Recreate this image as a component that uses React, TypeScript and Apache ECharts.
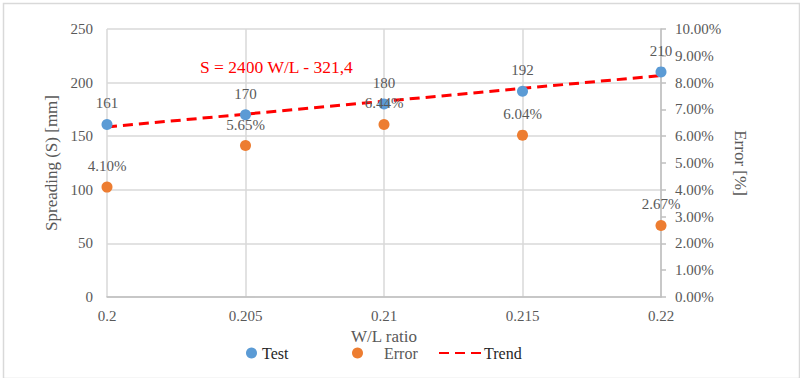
import React, { useEffect, useRef } from "react";
import * as echarts from "echarts";

const wlRatio = [0.2, 0.205, 0.21, 0.215, 0.22];
const testValues = [161, 170, 180, 192, 210];
const errorValues = [4.1, 5.65, 6.44, 6.04, 2.67];
const trendX = [0.2, 0.22];
const trendY = [158.6, 206.6];
const equationText = "S = 2400 W/L - 321,4";

const FONT = "Liberation Serif";
const GRAY = "#595959";

export default function App() {
  const ref = useRef<HTMLDivElement>(null);
  useEffect(() => {
    if (!ref.current) return;
    const chart = echarts.init(ref.current, undefined, { renderer: "svg" });
    chart.setOption({
      animation: false,
      backgroundColor: "#ffffff",
      textStyle: { fontFamily: FONT },
      grid: { left: 107, right: 139, top: 29, bottom: 81, containLabel: false },
      xAxis: {
        type: "value",
        min: 0.2,
        max: 0.22,
        interval: 0.005,
        name: "W/L ratio",
        nameLocation: "middle",
        nameGap: 30,
        nameTextStyle: { color: GRAY, fontSize: 17, fontFamily: FONT },
        axisLine: { show: true, lineStyle: { color: "#bfbfbf", width: 1.5 } },
        axisTick: { show: false },
        axisLabel: {
          color: GRAY,
          fontSize: 15,
          fontFamily: FONT,
          margin: 11,
          formatter: (v: number) => String(+v.toFixed(3)),
        },
        splitLine: { show: true, lineStyle: { color: "#d9d9d9", width: 1.5 } },
      },
      yAxis: [
        {
          type: "value",
          min: 0,
          max: 250,
          interval: 50,
          name: "Spreading (S) [mm]",
          nameLocation: "middle",
          nameGap: 38,
          nameTextStyle: { color: GRAY, fontSize: 17, fontFamily: FONT },
          axisLine: { show: false },
          axisTick: { show: false },
          axisLabel: { color: GRAY, fontSize: 15, fontFamily: FONT, margin: 14 },
          splitLine: { show: true, lineStyle: { color: "#d9d9d9", width: 1.5 } },
        },
        {
          type: "value",
          min: 0,
          max: 10,
          interval: 1,
          position: "right",
          name: "Error [%]",
          nameLocation: "middle",
          nameGap: 69,
          nameRotate: -90,
          nameTextStyle: { color: GRAY, fontSize: 17, fontFamily: FONT },
          axisLine: { show: true, lineStyle: { color: "#bfbfbf", width: 1.5 } },
          axisTick: { show: true, length: 5, lineStyle: { color: "#bfbfbf", width: 1.5 } },
          axisLabel: {
            color: GRAY,
            fontSize: 15,
            fontFamily: FONT,
            margin: 14,
            formatter: (v: number) => v.toFixed(2) + "%",
          },
          splitLine: { show: false },
        },
      ],
      legend: [
        {
          data: ["Test"],
          left: 241,
          top: 340,
          itemWidth: 11,
          itemHeight: 11,
          itemGap: 0,
          textStyle: { color: "#262626", fontSize: 16, fontFamily: FONT },
        },
        {
          data: ["Error"],
          left: 347,
          top: 340,
          itemWidth: 11,
          itemHeight: 11,
          textStyle: { color: GRAY, fontSize: 16, fontFamily: FONT, padding: [0, 0, 0, 16] },
        },
        {
          data: ["Trend"],
          left: 433,
          top: 340,
          itemWidth: 44,
          itemHeight: 11,
          itemStyle: { opacity: 0 },
          textStyle: { color: "#262626", fontSize: 16, fontFamily: FONT, padding: [0, 0, 0, -4] },
        },
      ],
      graphic: [
        {
          type: "rect",
          left: 1,
          top: 1,
          shape: { width: 796, height: 375 },
          style: { fill: "none", stroke: "#d9d9d9", lineWidth: 1.5 },
          silent: true,
          z: -1,
        },
        {
          type: "text",
          left: 200,
          top: 58,
          style: { text: equationText, fill: "#ff0000", fontSize: 17.5, fontFamily: FONT },
        },
      ],
      series: [
        {
          name: "Trend",
          type: "line",
          yAxisIndex: 0,
          data: trendX.map((x, i) => [x, trendY[i]]),
          symbol: "none",
          lineStyle: { color: "#ff0000", width: 3, type: [10, 6] },
          itemStyle: { color: "#ff0000" },
          z: 3,
        },
        {
          name: "Test",
          type: "scatter",
          yAxisIndex: 0,
          data: wlRatio.map((x, i) => [x, testValues[i]]),
          symbolSize: 11,
          itemStyle: { color: "#5b9bd5", opacity: 1 },
          label: {
            show: true,
            position: "top",
            distance: 8,
            color: GRAY,
            fontSize: 15,
            fontFamily: FONT,
            formatter: (p: any) => String(p.value[1]),
          },
          z: 4,
        },
        {
          name: "Error",
          type: "scatter",
          yAxisIndex: 1,
          data: wlRatio.map((x, i) => [x, errorValues[i]]),
          symbolSize: 11,
          itemStyle: { color: "#ed7d31", opacity: 1 },
          label: {
            show: true,
            position: "top",
            distance: 8,
            color: GRAY,
            fontSize: 15,
            fontFamily: FONT,
            formatter: (p: any) => p.value[1].toFixed(2) + "%",
          },
          z: 4,
        },
      ],
    });
    return () => chart.dispose();
  }, []);
  return <div ref={ref} style={{ width: 800, height: 378, position: "absolute", left: 0, top: 0 }} />;
}
